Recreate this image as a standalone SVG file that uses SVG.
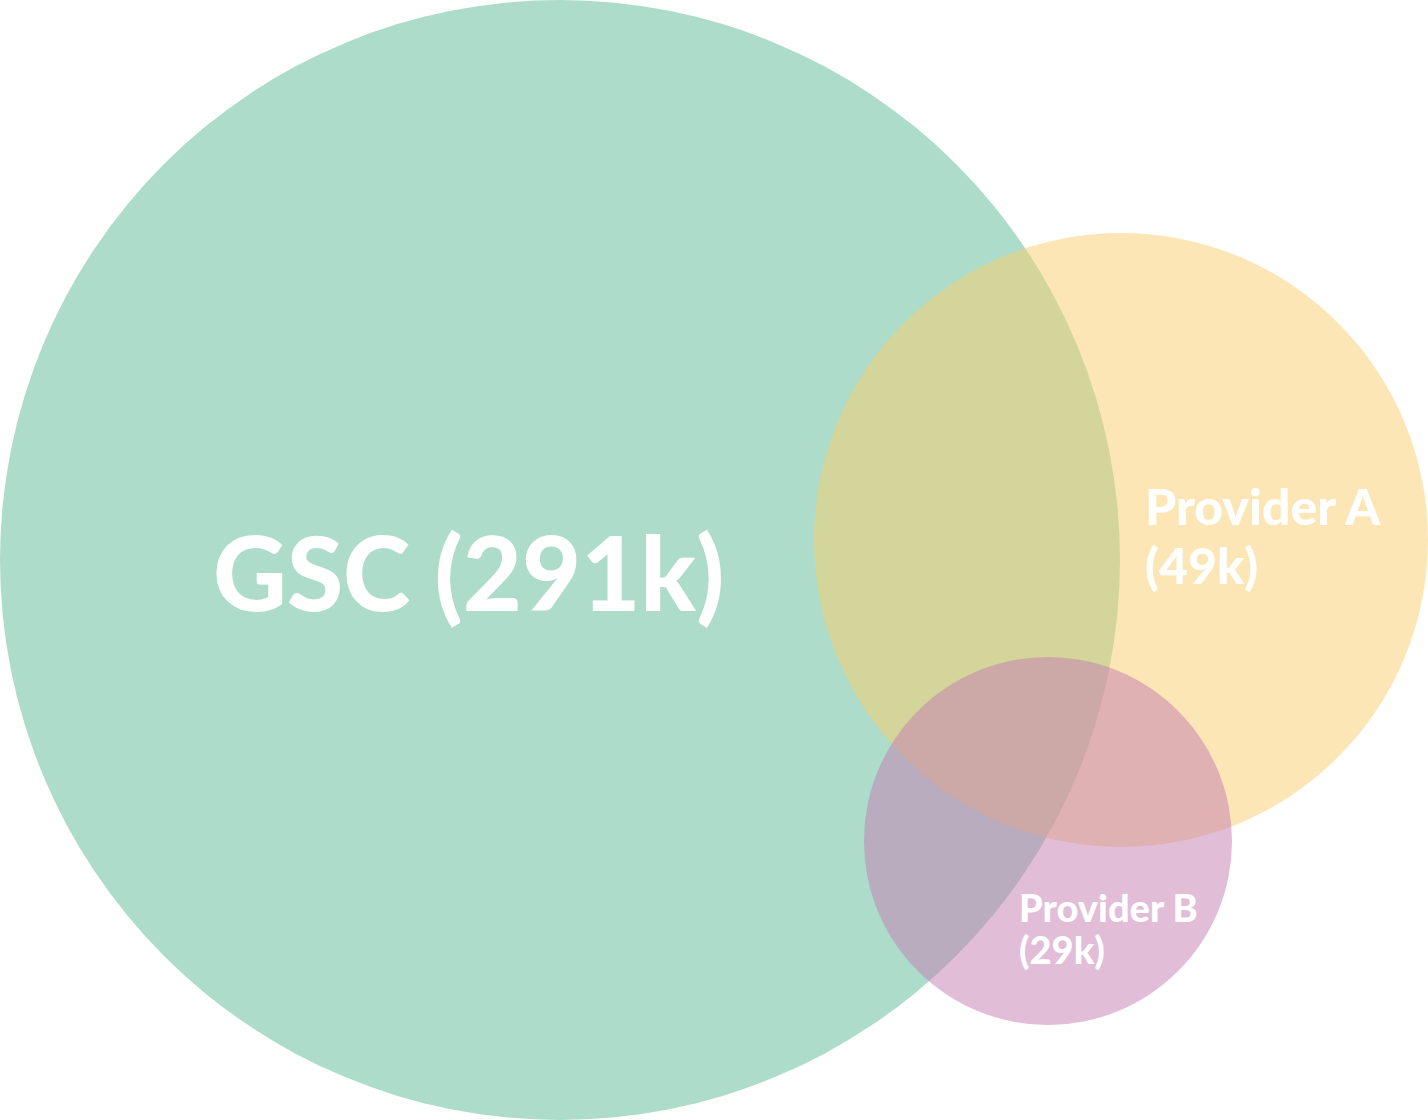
<svg xmlns="http://www.w3.org/2000/svg" width="1428" height="1120" viewBox="0 0 1428 1120">
<style>
.set{opacity:0.5}
.lbl{font-family:Lato,"Open Sans","Liberation Sans",sans-serif;font-weight:900;fill:#ffffff}
</style>
<rect width="1428" height="1120" fill="#ffffff"/>
<g id="gsc">
<circle class="set" cx="560" cy="560" r="560" fill="#5bb995"/>
</g>
<g id="providerA">
<circle class="set" cx="1121" cy="540" r="307" fill="#fbcd6b"/>
</g>
<g id="providerB">
<circle class="set" cx="1048" cy="841" r="184" fill="#c37bb1"/>
</g>
<g id="connectors"></g>
<g id="labels">
<text class="lbl" x="213" y="611" font-size="102">GSC (291k)</text>
<text class="lbl" x="1145" y="525" font-size="50">Provider A</text>
<text class="lbl" x="1145" y="584" font-size="50">(49k)</text>
<text class="lbl" x="1019" y="922" font-size="38">Provider B</text>
<text class="lbl" x="1019" y="964" font-size="38">(29k)</text>
</g>
</svg>
